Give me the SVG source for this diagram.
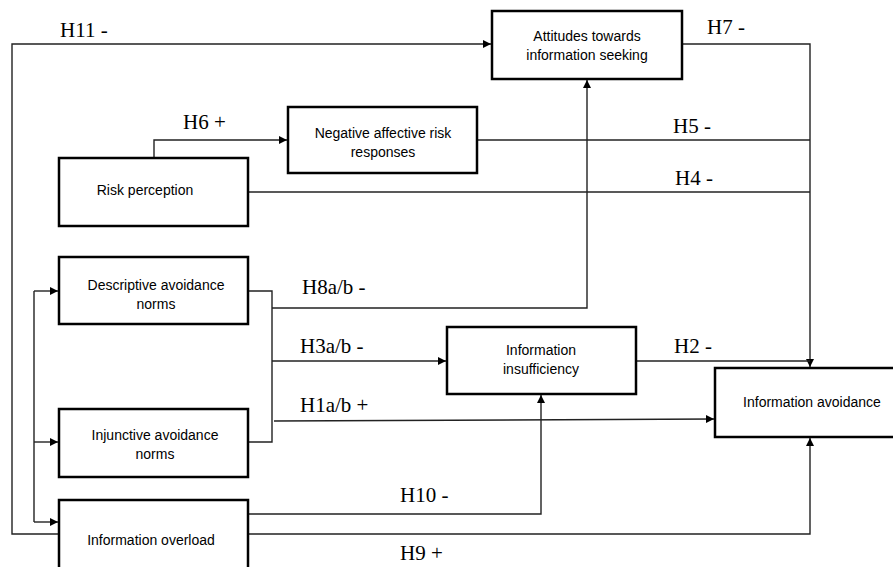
<svg xmlns="http://www.w3.org/2000/svg" width="893" height="567" viewBox="0 0 893 567">
<style>
.box{fill:#fff;stroke:#000;stroke-width:2.5}
.bt{font-family:"Liberation Sans",Arial,sans-serif;font-size:14px;fill:#000;text-anchor:middle}
.lb{font-family:"Liberation Serif","Times New Roman",serif;font-size:21px;fill:#000}
.c{fill:none;stroke:#222;stroke-width:1.4}
</style>
<defs>
<marker id="ar" viewBox="0 0 10 10" refX="10" refY="5" markerWidth="8" markerHeight="8" markerUnits="userSpaceOnUse" orient="auto">
<path d="M0,0 L10,5 L0,10 z" fill="#000"/>
</marker>
</defs>
<rect width="893" height="567" fill="#fff"/>
<g id="connectors">
<path class="c" d="M59,534 H12 V44 H491" marker-end="url(#ar)"/>
<path class="c" d="M154,158 V140 H287" marker-end="url(#ar)"/>
<path class="c" d="M682,44 H810 V367" marker-end="url(#ar)"/>
<path class="c" d="M477,140 H810"/>
<path class="c" d="M248,192 H810"/>
<path class="c" d="M248,291 H272 V442 H248"/>
<path class="c" d="M272,308 H587 V80" marker-end="url(#ar)"/>
<path class="c" d="M272,361 H446" marker-end="url(#ar)"/>
<path class="c" d="M274,421 L714,419" marker-end="url(#ar)"/>
<path class="c" d="M636,361 H810"/>
<path class="c" d="M248,514 H541 V395" marker-end="url(#ar)"/>
<path class="c" d="M248,534 H810 V438" marker-end="url(#ar)"/>
<path class="c" d="M34,291 V522"/>
<path class="c" d="M34,291 H58" marker-end="url(#ar)"/>
<path class="c" d="M34,442 H58" marker-end="url(#ar)"/>
<path class="c" d="M34,522 H58" marker-end="url(#ar)"/>
</g>
<g id="labels">
<text class="lb" x="60" y="37">H11 -</text>
<text class="lb" x="183" y="129">H6 +</text>
<text class="lb" x="707" y="34">H7 -</text>
<text class="lb" x="673" y="133">H5 -</text>
<text class="lb" x="675" y="185">H4 -</text>
<text class="lb" x="302" y="294">H8a/b -</text>
<text class="lb" x="300" y="353">H3a/b -</text>
<text class="lb" x="300" y="412">H1a/b +</text>
<text class="lb" x="674" y="353">H2 -</text>
<text class="lb" x="400" y="502">H10 -</text>
<text class="lb" x="400" y="560">H9 +</text>
</g>
<g id="attitudes">
<rect class="box" x="492" y="11" width="190" height="68"/>
<text class="bt" x="587" y="41">Attitudes towards</text>
<text class="bt" x="587" y="60">information seeking</text>
</g>
<g id="negative">
<rect class="box" x="288" y="107" width="189" height="66"/>
<text class="bt" x="383" y="138">Negative affective risk</text>
<text class="bt" x="383" y="157">responses</text>
</g>
<g id="risk">
<rect class="box" x="59" y="158" width="189" height="68"/>
<text class="bt" x="145" y="195">Risk perception</text>
</g>
<g id="descriptive">
<rect class="box" x="59" y="257" width="189" height="67"/>
<text class="bt" x="156" y="290">Descriptive avoidance</text>
<text class="bt" x="156" y="309">norms</text>
</g>
<g id="injunctive">
<rect class="box" x="59" y="409" width="189" height="68"/>
<text class="bt" x="155" y="440">Injunctive avoidance</text>
<text class="bt" x="155" y="459">norms</text>
</g>
<g id="overload">
<rect class="box" x="59" y="500" width="189" height="80"/>
<text class="bt" x="151" y="545">Information overload</text>
</g>
<g id="insufficiency">
<rect class="box" x="447" y="327" width="189" height="67"/>
<text class="bt" x="541" y="355">Information</text>
<text class="bt" x="541" y="374">insufficiency</text>
</g>
<g id="avoidance">
<rect class="box" x="715" y="368" width="190" height="69"/>
<text class="bt" x="812" y="407">Information avoidance</text>
</g>
</svg>
